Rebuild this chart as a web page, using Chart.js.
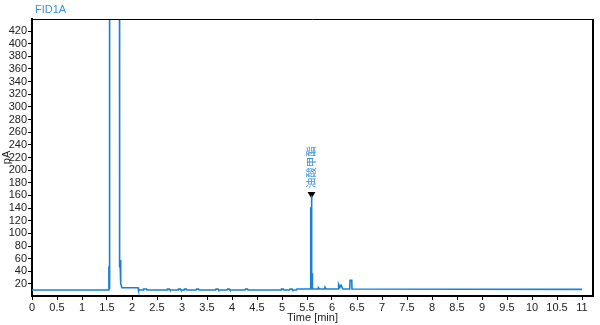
<!DOCTYPE html>
<html>
<head>
<meta charset="utf-8">
<script src="https://cdn.jsdelivr.net/npm/chart.js@4/dist/chart.umd.min.js"></script>
<style>
  html, body { margin: 0; padding: 0; background: #fff; }
  #wrap { width: 600px; height: 325px; position: relative; }
</style>
</head>
<body>
<div id="wrap"><canvas id="chart" width="600" height="325"></canvas></div>
<script>
// ── Data ─────────────────────────────────────────────────────
const times = [
  0, 1.535, 1.538, 1.542, 1.548, 1.552, 1.556,
  1.744, 1.746, 1.750, 1.754, 1.758, 1.762, 1.768, 1.78, 1.80,
  2.12, 2.13, 2.22, 2.23, 2.29, 2.30, 2.70, 2.71, 2.75, 2.76, 2.92, 2.93, 2.97, 2.98,
  3.04, 3.05, 3.09, 3.10, 3.28, 3.29, 3.33, 3.34, 3.67, 3.68, 3.72, 3.73, 3.90, 3.91, 3.95, 3.96,
  4.26, 4.27, 4.31, 4.32, 4.98, 4.99, 5.03, 5.04, 5.15, 5.16, 5.20, 5.21, 5.29, 5.30,
  5.570, 5.574, 5.583, 5.586, 5.595, 5.598, 5.603, 5.607, 5.610,
  5.72, 5.73, 5.75, 5.85, 5.86, 5.88,
  6.12, 6.125, 6.14, 6.16, 6.18, 6.185, 6.20, 6.215, 6.22,
  6.355, 6.36, 6.395, 6.40, 11,
];
const signal = [
  10.5, 10.5, 48, 22, 12, 12, 2000,
  2000, 300, 228, 60, 46, 58, 30, 20, 14,
  14, 10.5, 10.5, 12, 12, 10.5, 10.5, 11.8, 11.8, 10.5, 10.5, 11.8, 11.8, 10.5,
  10.5, 11.8, 11.8, 10.5, 10.5, 11.8, 11.8, 10.5, 10.5, 11.8, 11.8, 10.5, 10.5, 11.8, 11.8, 10.5,
  10.5, 11.8, 11.8, 10.5, 10.5, 11.8, 11.8, 10.5, 10.5, 11.8, 11.8, 10.5, 10.5, 12,
  12, 140, 140, 160, 160, 12, 37, 37, 12,
  12, 14, 12, 12, 15, 12,
  12, 19.5, 19.5, 15, 18, 18, 15, 15, 12,
  12, 26, 26, 12, 11.5,
];

// Peak label
const peakName = '油酸甲酯';
const peakTime = 5.59;
const peakMarkY = 162;

// Axis ticks
const xTicks = [0, 0.5, 1, 1.5, 2, 2.5, 3, 3.5, 4, 4.5, 5, 5.5, 6, 6.5, 7, 7.5, 8, 8.5, 9, 9.5, 10, 10.5, 11];
const yTicks = [20, 40, 60, 80, 100, 120, 140, 160, 180, 200, 220, 240, 260, 280, 300, 320, 340, 360, 380, 400, 420];

// ── Style ────────────────────────────────────────────────────
const TRACE_BLUE = '#1a80d2';
const LABEL_BLUE = '#3a92dc';
const FONT = '"Liberation Sans", Arial, sans-serif';

// Draws the outer box, the signal name and the rotated peak label
const decorPlugin = {
  id: 'decor',
  afterDraw(chart) {
    const { ctx, chartArea: a, scales } = chart;
    ctx.save();
    ctx.strokeStyle = '#000';
    ctx.lineWidth = 1;
    ctx.beginPath();
    ctx.moveTo(a.left, a.top + 0.5);
    ctx.lineTo(a.right, a.top + 0.5);
    ctx.stroke();
    ctx.lineWidth = 2;
    ctx.beginPath();
    ctx.moveTo(a.right, a.top);
    ctx.lineTo(a.right, a.bottom);
    ctx.stroke();

    ctx.fillStyle = LABEL_BLUE;
    ctx.font = '11px ' + FONT;
    ctx.textAlign = 'left';
    ctx.textBaseline = 'middle';
    ctx.fillText('FID1A', 35, 10);

    const px = scales.x.getPixelForValue(peakTime);
    const py = scales.y.getPixelForValue(peakMarkY);
    ctx.translate(px, py - 6);
    ctx.rotate(-Math.PI / 2);
    ctx.font = '10.5px "Noto Sans CJK SC", sans-serif';
    ctx.textBaseline = 'middle';
    ctx.fillText(peakName, 0, 0);
    ctx.restore();
  },
};

const chart = new Chart(document.getElementById('chart'), {
  type: 'line',
  data: {
    datasets: [
      {
        data: times.map((t, i) => ({ x: t, y: signal[i] })),
        borderColor: TRACE_BLUE,
        borderWidth: 1.6,
        pointRadius: 0,
        tension: 0,
        fill: false,
      },
      {
        type: 'scatter',
        data: [{ x: peakTime, y: peakMarkY }],
        pointStyle: 'triangle',
        rotation: 180,
        radius: 4.5,
        backgroundColor: '#000',
        borderColor: '#000',
        borderWidth: 0,
      },
    ],
  },
  options: {
    responsive: false,
    animation: false,
    layout: { padding: { top: 19, right: 7, left: 0, bottom: 0 } },
    plugins: { legend: { display: false }, tooltip: { enabled: false } },
    scales: {
      x: {
        type: 'linear',
        min: 0,
        max: 11.22,
        afterBuildTicks: (s) => { s.ticks = xTicks.map(v => ({ value: v })); },
        afterFit: (s) => { s.height = 29; },
        border: { color: '#000', width: 2 },
        grid: { drawOnChartArea: false, tickLength: 4, color: '#000' },
        ticks: {
          autoSkip: false,
          maxRotation: 0,
          padding: 1,
          color: '#222',
          font: { family: FONT, size: 11 },
          callback: (v) => String(v),
        },
        title: {
          display: true,
          text: 'Time [min]',
          color: '#222',
          font: { family: FONT, size: 11 },
          padding: { top: 0, bottom: 0 },
        },
      },
      y: {
        type: 'linear',
        min: 1,
        max: 439,
        afterBuildTicks: (s) => { s.ticks = yTicks.map(v => ({ value: v })); },
        afterFit: (s) => { s.width = 32; },
        border: { color: '#000', width: 2 },
        grid: { drawOnChartArea: false, tickLength: 4, color: '#000' },
        ticks: {
          autoSkip: false,
          padding: 1,
          color: '#222',
          font: { family: FONT, size: 11 },
        },
        title: {
          display: true,
          text: 'pA',
          color: '#222',
          font: { family: FONT, size: 11 },
          padding: { top: 0, bottom: 0 },
        },
      },
    },
  },
  plugins: [decorPlugin],
});
</script>
</body>
</html>
